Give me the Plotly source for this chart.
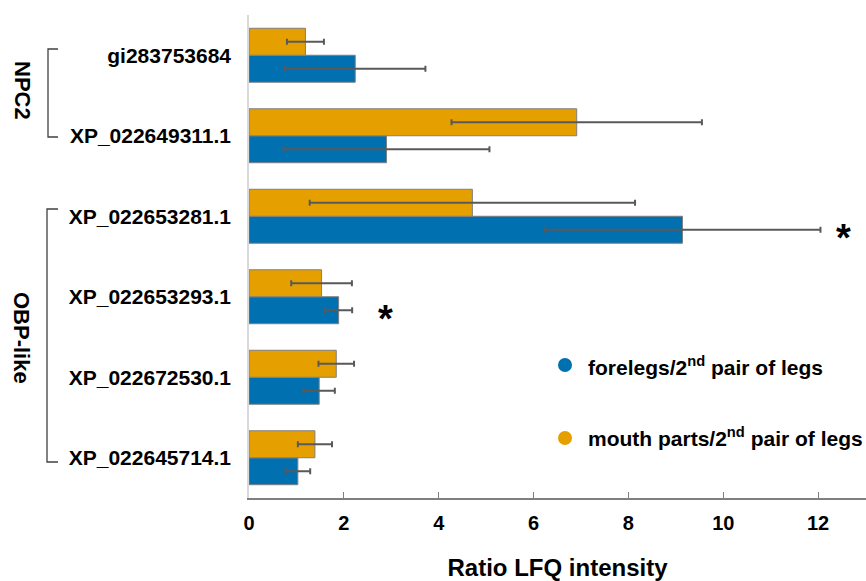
import plotly.graph_objects as go

categories = ["gi283753684", "XP_022649311.1", "XP_022653281.1",
              "XP_022653293.1", "XP_022672530.1", "XP_022645714.1"]
forelegs = [2.24, 2.90, 9.14, 1.89, 1.48, 1.03]
forelegs_err = [1.48, 2.17, 2.91, 0.285, 0.33, 0.26]
mouth = [1.19, 6.91, 4.71, 1.53, 1.84, 1.39]
mouth_err = [0.39, 2.64, 3.43, 0.64, 0.375, 0.36]
x_ticks = [0, 2, 4, 6, 8, 10, 12]
star_positions = [("XP_022653281.1", 12.53), ("XP_022653293.1", 2.88)]

BLUE = "#0070B0"
ORANGE = "#E5A000"
FONT = "Liberation Sans, Arial, sans-serif"

W, H = 866, 581
PL, PR, PT, PB = 249, 866, 15, 498  # plot area in window pixels
ML, MR, MT, MB = PL, W - PR, PT, H - PB

def px_to_paper_x(px):
    return (px - PL) / (PR - PL)

def px_to_paper_y(py):
    return (PB - py) / (PB - PT)

fig = go.Figure()
fig.add_trace(go.Bar(
    y=categories, x=forelegs, orientation="h", name="forelegs",
    marker=dict(color=BLUE, line=dict(color="#7f7f7f", width=1)),
    error_x=dict(type="data", array=forelegs_err, color="#595959", thickness=2, width=3),
    showlegend=False,
))
fig.add_trace(go.Bar(
    y=categories, x=mouth, orientation="h", name="mouth parts",
    marker=dict(color=ORANGE, line=dict(color="#7f7f7f", width=1)),
    error_x=dict(type="data", array=mouth_err, color="#595959", thickness=2, width=3),
    showlegend=False,
))

annotations = []
for cat, xv in star_positions:
    annotations.append(dict(x=xv, y=cat, xref="x", yref="y", text="<b>*</b>",
                            showarrow=False, font=dict(family=FONT, size=38, color="#000"),
                            yshift=-22))

def paper_text(px, py, text, size, angle=0, anchor="center"):
    annotations.append(dict(x=px_to_paper_x(px), y=px_to_paper_y(py), xref="paper", yref="paper",
                            text=text, showarrow=False, textangle=angle, xanchor=anchor,
                            yanchor="middle",
                            font=dict(family=FONT, size=size, color="#000")))

paper_text(22, 90, "<b>NPC2</b>", 22, angle=90)
paper_text(22, 338, "<b>OBP-like</b>", 22, angle=90)
paper_text(586, 366, "<b>forelegs/2<sup>nd</sup> pair of legs</b>", 21, anchor="left")
paper_text(586, 437, "<b>mouth parts/2<sup>nd</sup> pair of legs</b>", 21, anchor="left")

shapes = []
for (xv, y0, y1) in [(48, 49, 137), (47, 209, 462)]:
    pts = [(58, y0), (xv, y0), (xv, y1), (58, y1)]
    path = "M " + " L ".join(f"{px_to_paper_x(px)},{px_to_paper_y(py)}" for px, py in pts)
    shapes.append(dict(type="path", path=path, xref="paper", yref="paper",
                       line=dict(color="#404040", width=1.3)))
for py, col in [(365, BLUE), (438, ORANGE)]:
    shapes.append(dict(type="circle", xref="paper", yref="paper",
                       xsizemode="pixel", ysizemode="pixel",
                       xanchor=px_to_paper_x(565), yanchor=px_to_paper_y(py),
                       x0=-7, x1=7, y0=-7, y1=7,
                       fillcolor=col, line=dict(width=0)))

fig.update_layout(
    width=W, height=H,
    margin=dict(l=ML, r=MR, t=MT, b=MB, autoexpand=False),
    plot_bgcolor="white", paper_bgcolor="white",
    barmode="group", bargap=0.33, bargroupgap=0,
    font=dict(family=FONT, color="#000"),
    annotations=annotations, shapes=shapes,
    xaxis=dict(range=[0, 13.01], tickvals=x_ticks, ticktext=[f"<b>{v}</b>" for v in x_ticks],
               automargin=False,
               showgrid=False, zeroline=False, showline=True, linecolor="#7f7f7f", linewidth=1.5,
               ticks="inside", ticklen=6, tickcolor="#7f7f7f", ticklabelstandoff=6,
               tickfont=dict(family=FONT, size=20, color="#000"),
               title=dict(text="<b>Ratio LFQ intensity</b>", font=dict(family=FONT, size=24, color="#000"),
                          standoff=37)),
    yaxis=dict(categoryorder="array", categoryarray=categories[::-1],
               automargin=False,
               showgrid=False, zeroline=False, showline=True, linecolor="#d9d9d9", linewidth=1.5,
               ticks="", ticklabelstandoff=12,
               ticktext=[f"<b>{c}</b>" for c in categories], tickvals=categories,
               tickfont=dict(family=FONT, size=21, color="#000")),
)

fig.write_html("out.html", config={"displayModeBar": False},
               post_script="document.body.style.margin='0';document.body.style.overflow='hidden';")
